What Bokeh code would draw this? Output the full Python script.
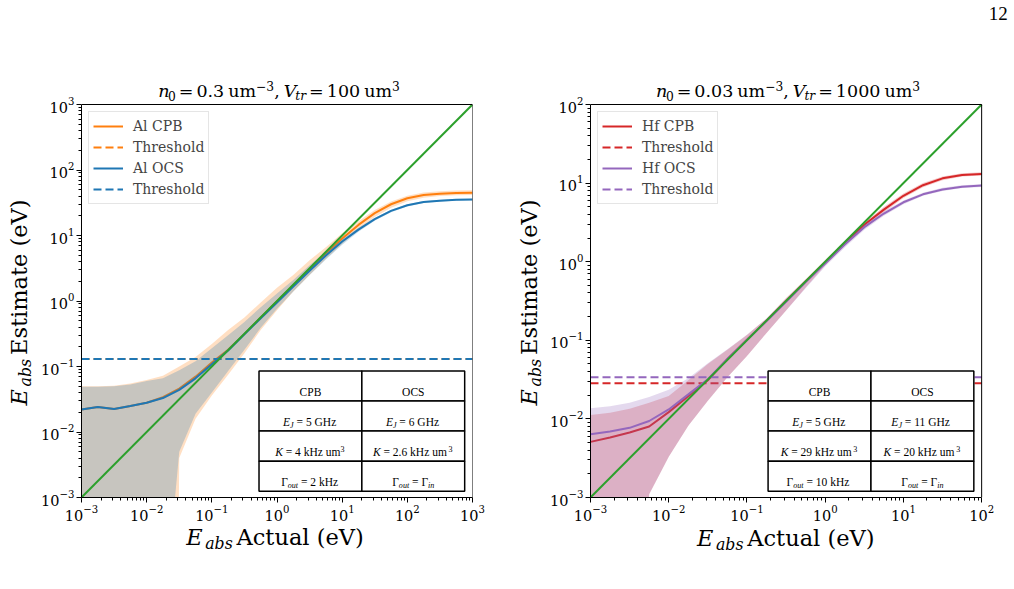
import math

from bokeh.core.properties import field, value
from bokeh.embed import file_html
from bokeh.layouts import column, row
from bokeh.models import (ColumnDataSource, FixedTicker, Legend, LegendItem,
                          LogTickFormatter, Range1d)
from bokeh.plotting import figure
from bokeh.resources import INLINE

# ---------------------------------------------------------------- data
# Aluminium devices: absorbed energy (eV), sampled every quarter decade
al_log_e = [-3.0, -2.75, -2.5, -2.25, -2.0, -1.75, -1.5, -1.25, -1.0, -0.75, -0.5, -0.25,
            0.0, 0.25, 0.5, 0.75, 1.0, 1.25, 1.5, 1.75, 2.0, 2.25, 2.5, 2.75, 3.0]
al_cpb = [0.022, 0.024, 0.0225, 0.025, 0.028, 0.034, 0.046, 0.07, 0.115, 0.18, 0.315, 0.56,
          0.99, 1.74, 3.05, 5.3, 9.0, 14.5, 22.0, 30.0, 37.0, 41.5, 43.5, 44.5, 45.0]
al_cpb_hi = [0.05, 0.05, 0.051, 0.055, 0.062, 0.072, 0.1, 0.14, 0.22, 0.36, 0.56, 0.95,
             1.6, 2.5, 4.2, 6.6, 10.8, 16.5, 24.5, 33.0, 40.5, 45.5, 47.5, 48.5, 49.0]
al_cpb_lo = [1e-30, 1e-30, 1e-30, 1e-30, 1e-30, 1e-30, 0.004, 0.016, 0.036, 0.075, 0.16, 0.36,
             0.72, 1.4, 2.5, 4.4, 7.5, 12.3, 19.2, 26.5, 33.3, 37.8, 40.0, 41.0, 41.4]
al_ocs = [0.022, 0.024, 0.0225, 0.025, 0.028, 0.033, 0.044, 0.066, 0.108, 0.175, 0.31, 0.545,
          0.95, 1.66, 2.9, 4.95, 8.1, 12.3, 17.8, 23.8, 29.0, 32.5, 34.0, 35.0, 35.5]
al_ocs_hi = [0.049, 0.049, 0.05, 0.053, 0.06, 0.066, 0.088, 0.12, 0.19, 0.3, 0.48, 0.8,
             1.3, 2.1, 3.5, 5.6, 8.8, 13.1, 18.7, 24.7, 30.0, 33.5, 35.0, 36.0, 36.5]
al_ocs_lo = [1e-5, 1e-5, 1e-5, 1e-5, 1e-5, 1e-5, 0.005, 0.019, 0.04, 0.085, 0.18, 0.39,
             0.76, 1.4, 2.5, 4.3, 7.2, 11.4, 16.8, 22.7, 27.8, 31.4, 33.0, 34.0, 34.5]
al_cpb_threshold = 0.13
al_ocs_threshold = 0.13

# Hafnium devices
hf_log_e = [-3.0, -2.75, -2.5, -2.25, -2.0, -1.75, -1.5, -1.25, -1.0, -0.75, -0.5, -0.25,
            0.0, 0.25, 0.5, 0.75, 1.0, 1.25, 1.5, 1.75, 2.0]
hf_cpb = [0.0051, 0.0058, 0.0067, 0.008, 0.0122, 0.0195, 0.031, 0.058, 0.102, 0.178, 0.316,
          0.56, 0.98, 1.72, 2.95, 4.6, 6.9, 9.4, 11.5, 12.7, 13.1]
hf_cpb_hi = [0.0112, 0.012, 0.0135, 0.016, 0.0195, 0.031, 0.05, 0.076, 0.117, 0.19, 0.345,
             0.6, 1.05, 1.84, 3.15, 4.95, 7.4, 10.0, 12.1, 13.3, 13.7]
hf_cpb_lo = [1e-9, 1e-9, 1e-9, 0.0011, 0.0033, 0.0082, 0.017, 0.034, 0.063, 0.124, 0.24,
             0.47, 0.9, 1.6, 2.72, 4.25, 6.45, 8.85, 10.9, 12.1, 12.5]
hf_ocs = [0.0064, 0.0069, 0.0077, 0.0094, 0.0132, 0.0205, 0.032, 0.058, 0.101, 0.176, 0.31,
          0.55, 0.95, 1.65, 2.75, 4.1, 5.7, 7.2, 8.3, 9.0, 9.3]
hf_ocs_hi = [0.0137, 0.0145, 0.016, 0.019, 0.0235, 0.033, 0.051, 0.077, 0.118, 0.19, 0.34,
             0.59, 1.02, 1.77, 2.95, 4.35, 6.0, 7.55, 8.7, 9.4, 9.7]
hf_ocs_lo = [1e-9, 1e-9, 1e-9, 0.0011, 0.0033, 0.0082, 0.017, 0.034, 0.063, 0.124, 0.24,
             0.46, 0.87, 1.52, 2.55, 3.85, 5.4, 6.9, 7.95, 8.65, 8.95]
hf_cpb_threshold = 0.0285
hf_ocs_threshold = 0.034

# axis decades
al_tick_exp = [-3, -2, -1, 0, 1, 2, 3]
hf_tick_exp = [-3, -2, -1, 0, 1, 2]

# device parameter tables
al_ej_ghz = ["5", "6"]
al_k_khz_um3 = ["4", "2.6"]
al_gamma_out_khz = ["2", None]      # None -> Gamma_out = Gamma_in
hf_ej_ghz = ["5", "11"]
hf_k_khz_um3 = ["29", "20"]
hf_gamma_out_khz = ["10", None]

al_n0, al_vtr = "0.3", "100"
hf_n0, hf_vtr = "0.03", "1000"
page_number = "12"

C_ORANGE, C_BLUE, C_GREEN = "#ff7f0e", "#1f77b4", "#2ca02c"
C_RED, C_PURPLE = "#d62728", "#9467bd"

SERIF = "DejaVu Serif"
TIMES = "Liberation Serif"
AXES_PX = 393          # side of the square axes box
AXES_TOP = 104         # page y of the axes top edge
PAGE_H = 589
PLOT_BOTTOM = 27       # room for the tick labels below the axes
PLOT_H = AXES_TOP + AXES_PX + PLOT_BOTTOM
BASE_FIX = 0.38        # lift (in em) so that the alphabetic baseline lands where asked

# approximate advance widths (em)
DV_W = {" ": 0.318, ".": 0.318, ",": 0.318, "=": 0.838, "(": 0.39, ")": 0.39, "\u2212": 0.838,
        "A": 0.722, "E": 0.73, "V": 0.722, "a": 0.596, "b": 0.64, "c": 0.56, "e": 0.592,
        "i": 0.32, "l": 0.32, "m": 0.948, "n": 0.644, "r": 0.478, "s": 0.513, "t": 0.402,
        "u": 0.644}
TM_W = {" ": 0.25, ".": 0.25, "=": 0.564, "C": 0.667, "P": 0.556, "B": 0.667, "O": 0.722,
        "S": 0.556, "G": 0.722, "H": 0.722, "k": 0.5, "z": 0.444, "u": 0.5, "m": 0.778,
        "\u0393": 0.578, "E": 0.611, "J": 0.444, "K": 0.667, "o": 0.5, "t": 0.278, "i": 0.278,
        "n": 0.5}


def text_width(s, px, table):
    return sum(table.get(ch, 0.636 if ch.isdigit() else 0.6) for ch in s) * px


def draw_texts(p, cols, font, **kw):
    p.text(source=ColumnDataSource(cols), x="x", y="y", text="text", x_offset="xo",
           y_offset="yo", text_font_style=field("style"), text_font_size=field("size"),
           text_font=value(font), text_align="left", text_baseline="alphabetic",
           text_color="black", **kw)


def new_cols():
    return dict(x=[], y=[], text=[], xo=[], yo=[], style=[], size=[])


def push(cols, x, y, text, xo, yo, style, size):
    cols["x"].append(x)
    cols["y"].append(y)
    cols["text"].append(text)
    cols["xo"].append(xo)
    cols["yo"].append(yo)
    cols["style"].append(style)
    cols["size"].append(f"{size}px")


def strip_figure(width, height, x_lo, x_hi, y_top, border_left=0, border_right=0):
    """A blank figure whose data coordinates are page pixels (y pointing down)."""
    s = figure(width=width, height=height, x_range=Range1d(x_lo, x_hi),
               y_range=Range1d(y_top + height, y_top), x_axis_type=None, y_axis_type=None,
               output_backend="svg", toolbar_location=None, title=None, min_border_top=0,
               min_border_bottom=0, min_border_left=border_left,
               min_border_right=border_right)
    s.outline_line_color = None
    s.background_fill_color = "white"
    s.border_fill_color = "white"
    s.xgrid.visible = False
    s.ygrid.visible = False
    return s


def ylabel_strip(width, x0, baseline_x):
    s = strip_figure(width, PAGE_H, x0, x0 + width, 0)
    fs, sfs = 22.5, 15.75
    cols = new_cols()
    start = 405
    push(cols, baseline_x - BASE_FIX * fs, start, "E", 0, 0, "italic", fs)
    push(cols, baseline_x + 4 - BASE_FIX * sfs, start - 19, "abs", 0, 0, "italic", sfs)
    push(cols, baseline_x - BASE_FIX * fs, start - 50.5, "Estimate (eV)", 0, 0, "normal", fs)
    draw_texts(s, cols, SERIF, angle=math.pi / 2)
    return s


def xlabel_strip(width, border_left, border_right, frame_lo, frame_hi, start_x, baseline_y):
    s = strip_figure(width, PAGE_H - PLOT_H, frame_lo, frame_hi, PLOT_H,
                     border_left, border_right)
    fs, sfs = 22.5, 15.75
    cols = new_cols()
    push(cols, start_x, baseline_y - BASE_FIX * fs, "E", 0, 0, "italic", fs)
    push(cols, start_x + 19, baseline_y + 4 - BASE_FIX * sfs, "abs", 0, 0, "italic", sfs)
    push(cols, start_x + 50.5, baseline_y - BASE_FIX * fs, "Actual (eV)", 0, 0, "normal", fs)
    draw_texts(s, cols, SERIF)
    return s


def add_title(p, x_mid, y_top, n0, vtr):
    fs, sfs = 17.5, 12.25
    # (text, style, size, baseline shift down, gap after)
    segs = [("n", "italic", fs, 0, -1.5), ("0", "normal", sfs, 3.5, 3),
            ("=", "normal", fs, 0, 3), (n0, "normal", fs, 0, 4),
            ("um", "normal", fs, 0, 0), ("\u22123", "normal", sfs, -7, 0),
            (",", "normal", fs, 0, 4),
            ("V", "italic", fs, 0, -1), ("tr", "italic", sfs, 3.5, 3),
            ("=", "normal", fs, 0, 3), (vtr, "normal", fs, 0, 4),
            ("um", "normal", fs, 0, 0), ("3", "normal", sfs, -7, 0)]
    total = sum(text_width(t, s, DV_W) + g for t, _, s, _, g in segs)
    x = -total / 2 + 2
    cols = new_cols()
    for t, st, s, dy, g in segs:
        push(cols, x_mid, y_top, t, x, -7.3 + dy - BASE_FIX * s, st, s)
        x += text_width(t, s, DV_W) + g
    draw_texts(p, cols, SERIF)


def table_cells(ej, kk, gout):
    sub, sup = 2.5, -4.5
    rows = [[[("CPB", "normal", 1, 0, 0)], [("OCS", "normal", 1, 0, 0)]]]
    rows.append([[("E", "italic", 1, 0, 0), ("J", "italic", 0.7, sub, 0),
                  (f" = {v} GHz", "normal", 1, 0, 0)] for v in ej])
    rows.append([[("K", "italic", 1, 0, 0), (f" = {v} kHz um", "normal", 1, 0, -1.5),
                  ("3", "normal", 0.7, sup, 0)] for v in kk])
    grow = []
    for v in gout:
        cell = [("\u0393", "normal", 1, 0, 0), ("out", "italic", 0.7, sub, 0),
                (" = ", "normal", 1, 0, 0)]
        if v is None:
            cell += [("\u0393", "normal", 1, 0, 0), ("in", "italic", 0.7, sub, 0)]
        else:
            cell += [(f"{v} kHz", "normal", 1, 0, 0)]
        grow.append(cell)
    rows.append(grow)
    return rows


def add_table(p, exp_lo, exp_hi, ej, kk, gout):
    span = exp_hi - exp_lo
    to_ax = lambda f: 10 ** (exp_lo + f * span)
    col_f = [0.454, 0.717, 0.98]
    row_f = [0.322, 0.2455, 0.169, 0.0925, 0.016]
    quads = dict(left=[], right=[], top=[], bottom=[])
    for r in range(4):
        for c in range(2):
            quads["left"].append(to_ax(col_f[c]))
            quads["right"].append(to_ax(col_f[c + 1]))
            quads["top"].append(to_ax(row_f[r]))
            quads["bottom"].append(to_ax(row_f[r + 1]))
    p.quad(source=ColumnDataSource(quads), left="left", right="right", top="top",
           bottom="bottom", fill_color="white", line_color="black", line_width=1.5)

    fs = 11.5
    cols = new_cols()
    for r, cells in enumerate(table_cells(ej, kk, gout)):
        for c, segs in enumerate(cells):
            cx = to_ax((col_f[c] + col_f[c + 1]) / 2)
            cy = to_ax((row_f[r] + row_f[r + 1]) / 2)
            total = sum(text_width(t, fs * k, TM_W) + g for t, _, k, _, g in segs)
            x = -total / 2
            for t, st, k, dy, g in segs:
                lead = len(t) - len(t.lstrip())
                x += text_width(" " * lead, fs * k, TM_W)
                push(cols, cx, cy, t.strip(), x, 10 + dy - BASE_FIX * fs * k, st, fs * k)
                x += text_width(t.lstrip(), fs * k, TM_W) + g
    draw_texts(p, cols, TIMES)


def make_panel(log_e, cpb, cpb_lo, cpb_hi, ocs, ocs_lo, ocs_hi, thr_cpb, thr_ocs,
               tick_exp, names, colors, width, border_left, border_right):
    lo_e, hi_e = tick_exp[0], tick_exp[-1]
    lo, hi = 10.0 ** lo_e, 10.0 ** hi_e
    decade = AXES_PX / (hi_e - lo_e)
    frame_w = width - border_left - border_right
    x_end = 10.0 ** (lo_e + frame_w / decade)
    y_end = 10.0 ** (hi_e + AXES_TOP / decade)
    p = figure(width=width, height=PLOT_H, x_axis_type="log", y_axis_type="log",
               x_range=Range1d(lo, x_end), y_range=Range1d(lo, y_end), output_backend="svg",
               toolbar_location=None, title=None, min_border_left=border_left,
               min_border_right=border_right, min_border_top=0, min_border_bottom=PLOT_BOTTOM)
    p.background_fill_color = "white"
    p.border_fill_color = "white"
    p.outline_line_color = None
    p.xgrid.visible = False
    p.ygrid.visible = False

    majors = [10.0 ** e for e in tick_exp]
    minors = [m * 10.0 ** e for e in tick_exp[:-1] for m in range(2, 10)]
    for ax in (p.xaxis[0], p.yaxis[0]):
        ax.ticker = FixedTicker(ticks=majors, minor_ticks=minors)
        ax.formatter = LogTickFormatter()
        ax.bounds = (lo, hi)
        ax.major_label_text_font = SERIF
        ax.major_label_text_font_size = "14.5px"
        ax.major_label_text_color = "black"
        ax.axis_line_color = "black"
        ax.major_tick_line_color = "black"
        ax.minor_tick_line_color = "black"
        ax.major_tick_in = 0
        ax.major_tick_out = 5
        ax.minor_tick_in = 0
        ax.minor_tick_out = 3
        ax.major_label_standoff = 2

    x = [10.0 ** e for e in log_e]
    c1, c2 = colors
    p.varea(x=x, y1=cpb_lo, y2=cpb_hi, fill_color=c1, fill_alpha=0.25)
    r1 = p.line(x, cpb, line_color=c1, line_width=2)
    t1 = p.line([lo, hi], [thr_cpb, thr_cpb], line_color=c1, line_width=2, line_dash="8 4")
    p.varea(x=x, y1=ocs_lo, y2=ocs_hi, fill_color=c2, fill_alpha=0.25)
    r2 = p.line(x, ocs, line_color=c2, line_width=2)
    t2 = p.line([lo, hi], [thr_ocs, thr_ocs], line_color=c2, line_width=2, line_dash="8 4")
    p.line([lo, hi], [lo, hi], line_color=C_GREEN, line_width=2)

    # top and right edges of the axes box
    p.line([lo, hi, hi], [hi, hi, lo], line_color="black", line_width=1)

    legend_h = 4 * 20 + 3 * 1 + 2 * 4
    legend = Legend(items=[LegendItem(label=names[0], renderers=[r1]),
                           LegendItem(label="Threshold", renderers=[t1]),
                           LegendItem(label=names[1], renderers=[r2]),
                           LegendItem(label="Threshold", renderers=[t2])],
                    location=(7, PLOT_H - PLOT_BOTTOM - (AXES_TOP + 9) - legend_h),
                    label_text_font=SERIF, label_text_font_size="14px",
                    glyph_width=30, glyph_height=20, label_height=20, spacing=1, padding=4,
                    margin=0, label_standoff=10, border_line_color="#cccccc",
                    border_line_width=1, background_fill_alpha=0.8)
    p.add_layout(legend)
    return p, (lo, hi)


# left panel: aluminium
p1, (lo1, hi1) = make_panel(al_log_e, al_cpb, al_cpb_lo, al_cpb_hi, al_ocs, al_ocs_lo,
                            al_ocs_hi, al_cpb_threshold, al_ocs_threshold, al_tick_exp,
                            ["Al CPB", "Al OCS"], (C_ORANGE, C_BLUE), 469, 41, 35)
add_table(p1, al_tick_exp[0], al_tick_exp[-1], al_ej_ghz, al_k_khz_um3, al_gamma_out_khz)
add_title(p1, 10 ** ((al_tick_exp[0] + al_tick_exp[-1]) / 2), hi1, al_n0, al_vtr)
ylab1 = ylabel_strip(38, 0, 27)
xlab1 = xlabel_strip(469, 41, 35, 79, 472, 184.3, 545)

# right panel: hafnium
p2, (lo2, hi2) = make_panel(hf_log_e, hf_cpb, hf_cpb_lo, hf_cpb_hi, hf_ocs, hf_ocs_lo,
                            hf_ocs_hi, hf_cpb_threshold, hf_ocs_threshold, hf_tick_exp,
                            ["Hf CPB", "Hf OCS"], (C_RED, C_PURPLE), 467, 41, 0)
add_table(p2, hf_tick_exp[0], hf_tick_exp[-1], hf_ej_ghz, hf_k_khz_um3, hf_gamma_out_khz)
add_title(p2, 10 ** ((hf_tick_exp[0] + hf_tick_exp[-1]) / 2), hi2, hf_n0, hf_vtr)
pn = new_cols()
push(pn, hi2, hi2, page_number, 7, -84 - BASE_FIX * 19, "normal", 19)
draw_texts(p2, pn, TIMES)
ylab2 = ylabel_strip(40, 507, 537)
xlab2 = xlabel_strip(467, 41, 0, 588, 1014, 695, 546)

layout = row(ylab1, column(p1, xlab1), ylab2, column(p2, xlab2))
open("out.html", "w").write(file_html(layout, INLINE))
